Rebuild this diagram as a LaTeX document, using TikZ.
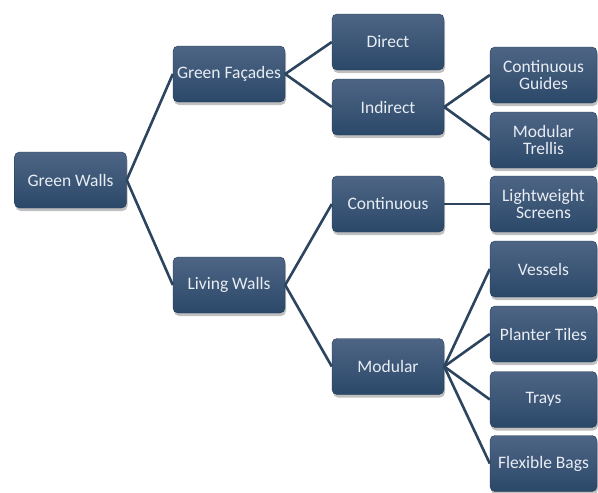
\documentclass[tikz,border=0pt]{standalone}
\usepackage{fontspec}
\setmainfont{Carlito}
\usetikzlibrary{shadows}
\definecolor{boxtop}{HTML}{4E6585}
\definecolor{boxbot}{HTML}{2B4869}
\definecolor{boxtext}{HTML}{E8EDF3}
\definecolor{linkcol}{HTML}{2C445E}
\tikzset{
  box/.style={rounded corners=5pt, top color=boxtop, bottom color=boxbot,
    draw=boxbot!80!black, line width=0.4pt,
    text=boxtext, font=\fontsize{17.5}{17}\selectfont, align=center,
    minimum width=112pt, minimum height=56pt, inner sep=1pt,
    drop shadow={shadow xshift=1pt, shadow yshift=-3pt, opacity=0.35, fill=black!70}},
  leaf/.style={box, minimum width=107pt},
  link/.style={draw=linkcol, line width=2.6pt}
}
\begin{document}
\begin{tikzpicture}[x=1pt,y=-1pt]
\useasboundingbox (0,0) rectangle (598,493);
\fill[white] (0,0) rectangle (598,493);
\node[box] (gw) at (70.5,180) {Green Walls};
\node[box] (gf) at (229,74) {Green Façades};
\node[box] (lw) at (229,285) {Living Walls};
\node[box] (d) at (388,42) {Direct};
\node[box] (i) at (388,107) {Indirect};
\node[box] (c) at (388,204) {Continuous};
\node[box] (m) at (388,366.5) {Modular};
\node[leaf] (cg) at (543.5,75) {Continuous\\Guides};
\node[leaf] (mt) at (543.5,140) {Modular\\Trellis};
\node[leaf] (ls) at (543.5,204) {Lightweight\\Screens};
\node[leaf] (v) at (543.5,269) {Vessels};
\node[leaf] (pt) at (543.5,334) {Planter Tiles};
\node[leaf] (t) at (543.5,399.5) {Trays};
\node[leaf] (fb) at (543.5,463.5) {Flexible Bags};
\draw[link] (gw.east) -- (gf.west);
\draw[link] (gw.east) -- (lw.west);
\draw[link] (gf.east) -- (d.west);
\draw[link] (gf.east) -- (i.west);
\draw[link] (lw.east) -- (c.west);
\draw[link] (lw.east) -- (m.west);
\draw[link] (i.east) -- (cg.west);
\draw[link] (i.east) -- (mt.west);
\draw[link] (c.east) -- (ls.west);
\draw[link] (m.east) -- (v.west);
\draw[link] (m.east) -- (pt.west);
\draw[link] (m.east) -- (t.west);
\draw[link] (m.east) -- (fb.west);
\end{tikzpicture}
\end{document}
